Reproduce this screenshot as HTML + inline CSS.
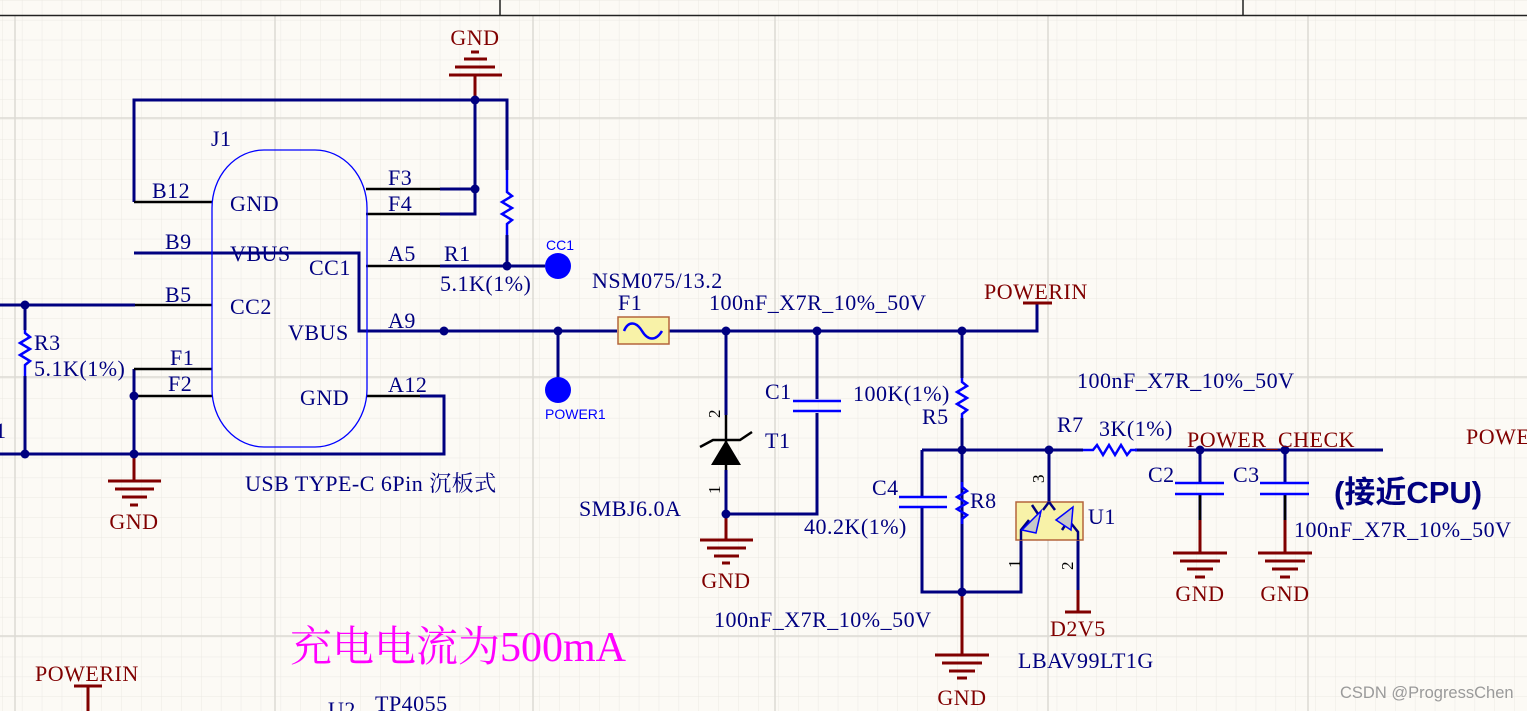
<!DOCTYPE html>
<html><head><meta charset="utf-8"><style>
html,body{margin:0;padding:0;background:#fcfaf5;}
svg{display:block;}
text{font-family:"Liberation Serif","Noto Serif CJK SC",serif;font-size:22px;letter-spacing:0.5px;fill:#000080;}
.r{fill:#800000;}
.m{text-anchor:middle;}
.s{font-family:"Liberation Sans","Noto Sans CJK SC",sans-serif;letter-spacing:0;}
</style></head><body>
<svg width="1527" height="711" viewBox="0 0 1527 711" xmlns="http://www.w3.org/2000/svg">
<defs>
<pattern id="g" width="19.9" height="19.9" patternUnits="userSpaceOnUse" x="2" y="0">
<path d="M0 0H19.9M0 0V19.9" stroke="#ebe9e3" stroke-width="1" fill="none"/>
</pattern>
</defs>
<rect width="1527" height="711" fill="#fcfaf5"/>
<rect width="1527" height="711" fill="url(#g)"/>
<g stroke="#dcdad4" stroke-width="1.5">
<path d="M0 118H1527M0 377H1527M0 636H1527M15 15V711M275 15V711M533 15V711M775 15V711M1048 15V711M1308 15V711"/>
</g>
<path d="M0 15.5H1527M500 0V15M1243 0V15" stroke="#222" stroke-width="1.5"/>

<g stroke="#000080" stroke-width="3" fill="none">
<path d="M134 202V100H507V170"/>
<path d="M475 100V214H440"/>
<path d="M475 189H440"/>
<path d="M507 235V266H545"/>
<path d="M440 266H507"/>
<path d="M0 305H135"/>
<path d="M25 305V330M25 376V454M0 454H444V396H420"/>
<path d="M134 454V396M134 369V396"/>
<path d="M134 253H359V331H617"/>
<path d="M558 331V380"/>
<path d="M669 331H1037V303"/>
<path d="M726 331V415M726 470V514H817V413M817 331V399"/>
<path d="M962 331V378M962 418V592M922 450H1083M1135 450H1383"/>
<path d="M922 450V497M922 507V592H1021V540"/>
<path d="M1049 450V502"/>
<path d="M1078 540V590"/>
<path d="M1200 450V483M1200 494V520M1285 450V483M1285 494V520"/>
</g>
<g stroke="#000" stroke-width="2.5" fill="none">
<path d="M134 202H212M134 369H212M134 396H212M135 305H212M366 189H440M366 214H440M366 266H440M366 396H420M726 415V470M1200 494V520M1285 494V520"/>
</g>
<g stroke="#800000" stroke-width="3" fill="none">
<path d="M475 100V75M449 75H502M455 67H495M464 59H487M471 52H479"/>
<path d="M134 454V481M108 481H161M115 489H154M122 497H147M130 505H138"/>
<path d="M726 514V540M700 540H753M707 548H746M714 556H739M722 563H730"/>
<path d="M962 592V655M935 655H989M942 663H982M949 671H975M957 678H967"/>
<path d="M1200 520V553M1173 553H1227M1180 561H1220M1187 569H1213M1195 577H1205"/>
<path d="M1285 520V553M1258 553H1312M1265 561H1305M1272 569H1298M1280 577H1290"/>
<path d="M1023 303H1052"/>
<path d="M1078 590V612M1065 612H1091"/>
<path d="M74 686H102M88 686V711"/>
</g>
<g stroke="#0000ff" stroke-width="2.5" fill="none">
<rect x="212" y="150" width="155" height="297" rx="52" ry="58" stroke-width="1.3"/>
<path d="M507 170V192l5 4-10 6 10 6-10 6 10 6-5 4V235"/>
<path d="M25 330v3l5 4-10 6 10 6-10 6 10 6-5 4v11"/>
<path d="M962 378v4l5 4-10 6 10 6-10 6 10 6-5 4v4"/>
<path d="M962 482v5l5 4-10 6 10 6-10 6 10 6-5 4v5"/>
<path d="M1083 450h10l4-5 6 10 6-10 6 10 6-10 6 10 4-5h6"/>
<path d="M793 401H841M793 411H841"/>
<path d="M899 497H947M899 507H947"/>
<path d="M1175 483H1224M1175 494H1224M1260 483H1309M1260 494H1309"/>
</g>
<rect x="618" y="317" width="51" height="27" fill="#f8f2a8" stroke="#b4643c" stroke-width="1.5"/>
<path d="M624 331c4-10 12-10 18 0s14 10 20 0" stroke="#0000ff" stroke-width="2.5" fill="none"/>
<path d="M711 465L726 440L741 465Z" fill="#000"/>
<path d="M700 447L713 440H740L752 432" stroke="#000" stroke-width="2.5" fill="none"/>
<rect x="1016" y="502" width="67" height="38" fill="#f8f2a8" stroke="#b4643c" stroke-width="1.5"/>
<g stroke="#000080" stroke-width="2.5" fill="none">
<path d="M1021 540V530l8-10M1049 502l-6 8M1078 540V532l-8-10M1049 502l6 8"/>
<path d="M1032 505l8 12M1062 530l8-12"/>
</g>
<path d="M1022 530L1041 511L1036 533Z" fill="#c8c8c8" stroke="#0000ff" stroke-width="1.5"/>
<path d="M1056 520L1073 507L1071 530Z" fill="#c8c8c8" stroke="#0000ff" stroke-width="1.5"/>
<circle cx="558" cy="266" r="13" fill="#0000ff"/>
<circle cx="558" cy="390" r="13" fill="#0000ff"/>
<g fill="#000080">
<circle cx="475" cy="100" r="4.5"/><circle cx="475" cy="189" r="4.5"/><circle cx="507" cy="266" r="4.5"/>
<circle cx="25" cy="305" r="4.5"/><circle cx="25" cy="454" r="4.5"/><circle cx="134" cy="454" r="4.5"/><circle cx="134" cy="396" r="4.5"/>
<circle cx="444" cy="331" r="4.5"/><circle cx="558" cy="331" r="4.5"/><circle cx="726" cy="331" r="4.5"/><circle cx="817" cy="331" r="4.5"/><circle cx="962" cy="331" r="4.5"/>
<circle cx="726" cy="514" r="4.5"/><circle cx="962" cy="450" r="4.5"/><circle cx="1049" cy="450" r="4.5"/><circle cx="962" cy="592" r="4.5"/>
<circle cx="1200" cy="450" r="4.5"/><circle cx="1285" cy="450" r="4.5"/>
</g>
<text class="r m" x="475" y="45">GND</text>
<text x="211" y="146">J1</text>
<text x="152" y="198">B12</text>
<text x="230" y="211">GND</text>
<text x="388" y="185">F3</text>
<text x="388" y="211">F4</text>
<text x="165" y="249">B9</text>
<text x="230" y="261">VBUS</text>
<text x="309" y="275">CC1</text>
<text x="388" y="261">A5</text>
<text x="444" y="261">R1</text>
<text x="440" y="291">5.1K(1%)</text>
<text x="165" y="302">B5</text>
<text x="230" y="314">CC2</text>
<text x="288" y="340">VBUS</text>
<text x="388" y="328">A9</text>
<text x="170" y="365">F1</text>
<text x="168" y="391">F2</text>
<text x="300" y="405">GND</text>
<text x="388" y="392">A12</text>
<text x="34" y="350">R3</text>
<text x="34" y="376">5.1K(1%)</text>
<text x="-5" y="438">1</text>
<text x="245" y="491">USB TYPE-C 6Pin  沉板式</text>
<text class="r m" x="134" y="529">GND</text>
<text class="s" x="546" y="250" style="font-size:14px;fill:#0000ff">CC1</text>
<text class="s" x="545" y="419" style="font-size:14px;fill:#0000ff">POWER1</text>
<text x="592" y="288">NSM075/13.2</text>
<text x="618" y="310">F1</text>
<text x="709" y="310">100nF_X7R_10%_50V</text>
<text class="r" x="984" y="299">POWERIN</text>
<text x="765" y="399">C1</text>
<text x="765" y="448">T1</text>
<text x="579" y="516">SMBJ6.0A</text>
<text x="720" y="418" transform="rotate(-90 720 418)" style="font-size:17px;fill:#000">2</text>
<text x="720" y="494" transform="rotate(-90 720 494)" style="font-size:17px;fill:#000">1</text>
<text class="r m" x="726" y="588">GND</text>
<text x="853" y="401">100K(1%)</text>
<text x="922" y="424">R5</text>
<text x="872" y="495">C4</text>
<text x="970" y="508">R8</text>
<text x="804" y="534">40.2K(1%)</text>
<text x="714" y="627">100nF_X7R_10%_50V</text>
<text class="r m" x="962" y="705">GND</text>
<text x="1044" y="483" transform="rotate(-90 1044 483)" style="font-size:17px;fill:#000">3</text>
<text x="1020" y="568" transform="rotate(-90 1020 568)" style="font-size:17px;fill:#000">1</text>
<text x="1073" y="570" transform="rotate(-90 1073 570)" style="font-size:17px;fill:#000">2</text>
<text x="1088" y="524">U1</text>
<text class="r" x="1050" y="636">D2V5</text>
<text x="1018" y="668">LBAV99LT1G</text>
<text x="1077" y="388">100nF_X7R_10%_50V</text>
<text x="1057" y="432">R7</text>
<text x="1099" y="436">3K(1%)</text>
<text class="r" x="1187" y="447">POWER_CHECK</text>
<text class="r" x="1466" y="444">POWE</text>
<text x="1148" y="482">C2</text>
<text x="1233" y="482">C3</text>
<text class="s" x="1334" y="503" style="font-size:31px;font-weight:bold">(接近CPU)</text>
<text x="1294" y="537">100nF_X7R_10%_50V</text>
<text class="r m" x="1200" y="601">GND</text>
<text class="r m" x="1285" y="601">GND</text>
<text x="290" y="661" style="font-size:42px;letter-spacing:0;fill:#ff00ff">充电电流为500mA</text>
<text class="r" x="35" y="681">POWERIN</text>
<text x="328" y="717">U2</text>
<text x="375" y="711">TP4055</text>
<text class="s" x="1340" y="698" style="font-size:16.5px;fill:#9a9a9a">CSDN @ProgressChen</text>
</svg>
</body></html>
